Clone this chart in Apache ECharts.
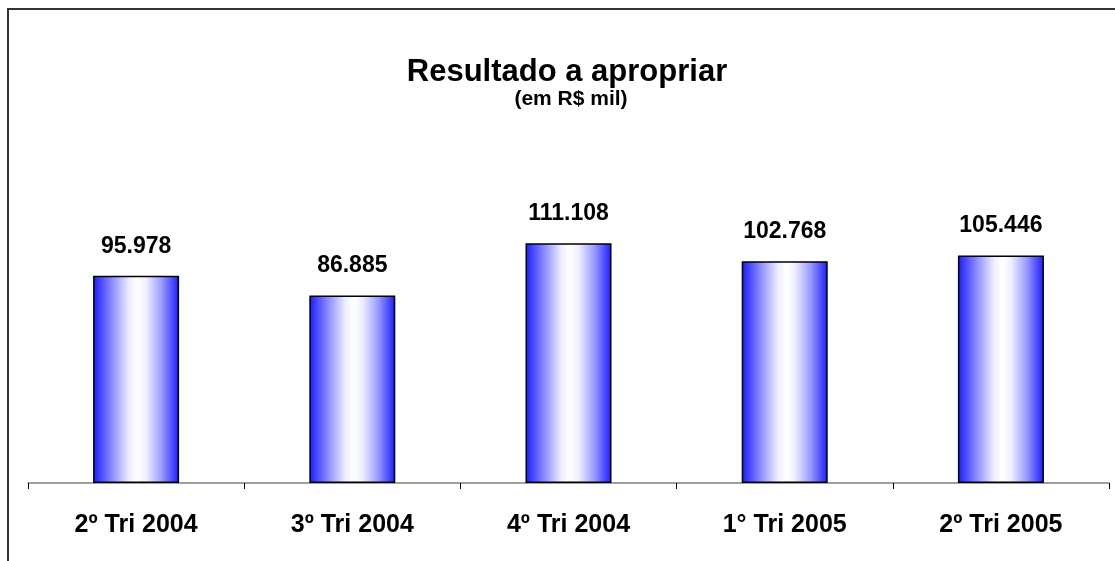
<!DOCTYPE html>
<html>
<head>
<meta charset="utf-8">
<style>
  html, body { margin: 0; padding: 0; background: #fff; }
  #main { width: 1115px; height: 561px; }
</style>
<script src="https://cdn.jsdelivr.net/npm/echarts@6/dist/echarts.min.js"></script>
</head>
<body>
<div id="main"></div>
<script>
var categories = ['2º Tri 2004', '3º Tri 2004', '4º Tri 2004', '1° Tri 2005', '2º Tri 2005'];
var values = [95978, 86885, 111108, 102768, 105446];

// 95978 -> "95.978"
function fmt(v) {
  return String(v).replace(/\B(?=(\d{3})+(?!\d))/g, '.');
}

var myChart = echarts.init(document.getElementById('main'));
myChart.setOption({
  animation: false,
  textStyle: { fontFamily: 'Liberation Sans, Arial, sans-serif' },
  title: [{
    text: 'Resultado a apropriar',
    left: 562,
    top: 52,
    textAlign: 'center',
    textStyle: { color: '#000', fontSize: 31, fontWeight: 'bold' }
  }, {
    text: '(em R$ mil)',
    left: 566,
    top: 84,
    textAlign: 'center',
    textStyle: { color: '#000', fontSize: 21, fontWeight: 'bold' }
  }],
  graphic: [{
    type: 'polyline',
    shape: { points: [[8, 561], [8, 9], [1115, 9]] },
    style: { stroke: '#333', lineWidth: 2, fill: null }
  }],
  grid: { left: 28, right: 6, top: 224, bottom: 78 },
  xAxis: {
    type: 'category',
    data: categories,
    axisLine: { lineStyle: { color: '#808080', width: 1.5 } },
    axisTick: { show: true, length: 6, lineStyle: { color: '#000' } },
    axisLabel: { color: '#000', fontSize: 25, fontWeight: 'bold', margin: 30 }
  },
  yAxis: {
    type: 'value',
    min: 0,
    max: 120000,
    show: false,
    splitLine: { show: false }
  },
  series: [{
    type: 'bar',
    data: values,
    barWidth: 86,
    itemStyle: {
      borderColor: '#000',
      borderWidth: 1.5,
      color: new echarts.graphic.LinearGradient(0, 0, 1, 0, [
        { offset: 0, color: '#1a1aff' },
        { offset: 0.22, color: '#8c8cff' },
        { offset: 0.42, color: '#eeeeff' },
        { offset: 0.52, color: '#ffffff' },
        { offset: 0.62, color: '#eeeeff' },
        { offset: 0.8, color: '#9a9aff' },
        { offset: 1, color: '#1a1aff' }
      ])
    },
    label: {
      show: true,
      position: 'top',
      distance: 18,
      color: '#000',
      fontSize: 23,
      fontWeight: 'bold',
      formatter: function (p) { return fmt(p.value); }
    }
  }]
});
</script>
</body>
</html>
